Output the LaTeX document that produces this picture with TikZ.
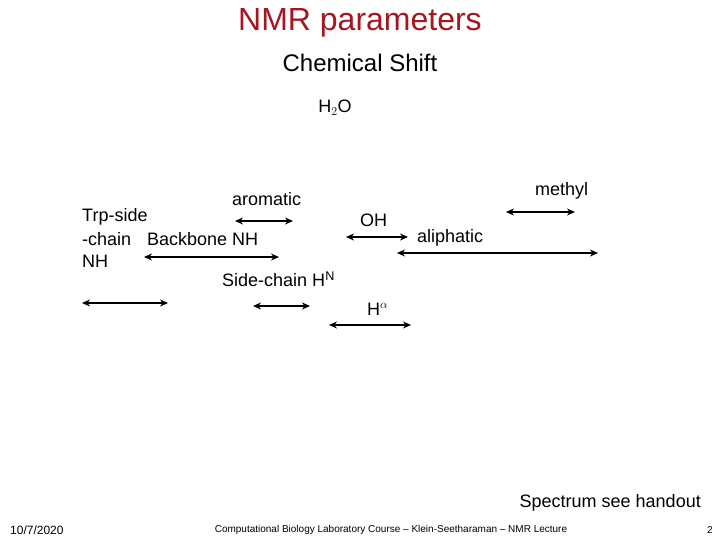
\documentclass[tikz,border=0pt]{standalone}
\usepackage{fontspec}
\setmainfont{Liberation Sans}
\usepackage{xcolor}
\usetikzlibrary{arrows.meta}
\definecolor{titlered}{RGB}{165,22,32}

\begin{document}
\begin{tikzpicture}[x=1pt, y=-1pt, >={Stealth[length=8pt, width=7pt]},
    lbl/.style={inner sep=0pt, anchor=west, font=\fontsize{18}{21}\selectfont},
    shiftrange/.style={<->, line width=2.2pt},
    foot/.style={inner sep=0pt, font=\fontsize{10}{12}\selectfont}]
    \useasboundingbox (0,0) rectangle (720,540);
    % Headings
    \node[inner sep=0pt, text=titlered, font=\fontsize{32}{36}\selectfont] (title) at (360,23) {NMR parameters};
    \node[inner sep=0pt, font=\fontsize{24}{28}\selectfont] (sub) at (360,63) {Chemical Shift};
    \node[inner sep=0pt, font=\fontsize{18}{21}\selectfont] (water) at (335,108) {H$_2$O};
    % Left group: NH and aromatic
    \node[lbl] (trp1) at (82,217) {Trp-side};
    \node[lbl] (trp2) at (82,239) {-chain};
    \node[lbl] (trp3) at (82,261) {NH};
    \node[lbl] (bbnh) at (147,239) {Backbone NH};
    \node[lbl] (arom) at (232,199) {aromatic};
    \node[lbl] (scnh) at (222,279) {Side-chain H$^{\mathrm{N}}$};
    \coordinate (trpL) at (82,303);  \coordinate (trpR) at (168,303);
    \coordinate (bbL) at (144,257);  \coordinate (bbR) at (279,257);
    \coordinate (arL) at (235,221);  \coordinate (arR) at (293,221);
    \coordinate (scL) at (253,306);  \coordinate (scR) at (310,306);
    \draw[shiftrange] (trpL) -- (trpR);
    \draw[shiftrange] (bbL) -- (bbR);
    \draw[shiftrange] (arL) -- (arR);
    \draw[shiftrange] (scL) -- (scR);
    % Right group: OH, H-alpha, aliphatic, methyl
    \node[lbl] (oh) at (360,220) {OH};
    \node[lbl] (aliph) at (417,238) {aliphatic};
    \node[lbl] (meth) at (535,191) {methyl};
    \node[lbl] (halpha) at (367,309) {H$^{\alpha}$};
    \coordinate (ohL) at (346,237);  \coordinate (ohR) at (408,237);
    \coordinate (alL) at (397,253);  \coordinate (alR) at (598,253);
    \coordinate (meL) at (506,212);  \coordinate (meR) at (575,212);
    \coordinate (haL) at (329,325);  \coordinate (haR) at (411,325);
    \draw[shiftrange] (ohL) -- (ohR);
    \draw[shiftrange] (alL) -- (alR);
    \draw[shiftrange] (meL) -- (meR);
    \draw[shiftrange] (haL) -- (haR);
    % Footer
    \node[inner sep=0pt, anchor=east, font=\fontsize{18}{21}\selectfont] (spec) at (701,503) {Spectrum see handout};
    \node[foot, anchor=west, font=\fontsize{12}{14}\selectfont] (date) at (10,530) {10/7/2020};
    \node[foot] (course) at (391,530) {Computational Biology Laboratory Course -- Klein-Seetharaman -- NMR Lecture};
    \node[foot, anchor=east] (page) at (713,530) {2};
\end{tikzpicture}
\end{document}
